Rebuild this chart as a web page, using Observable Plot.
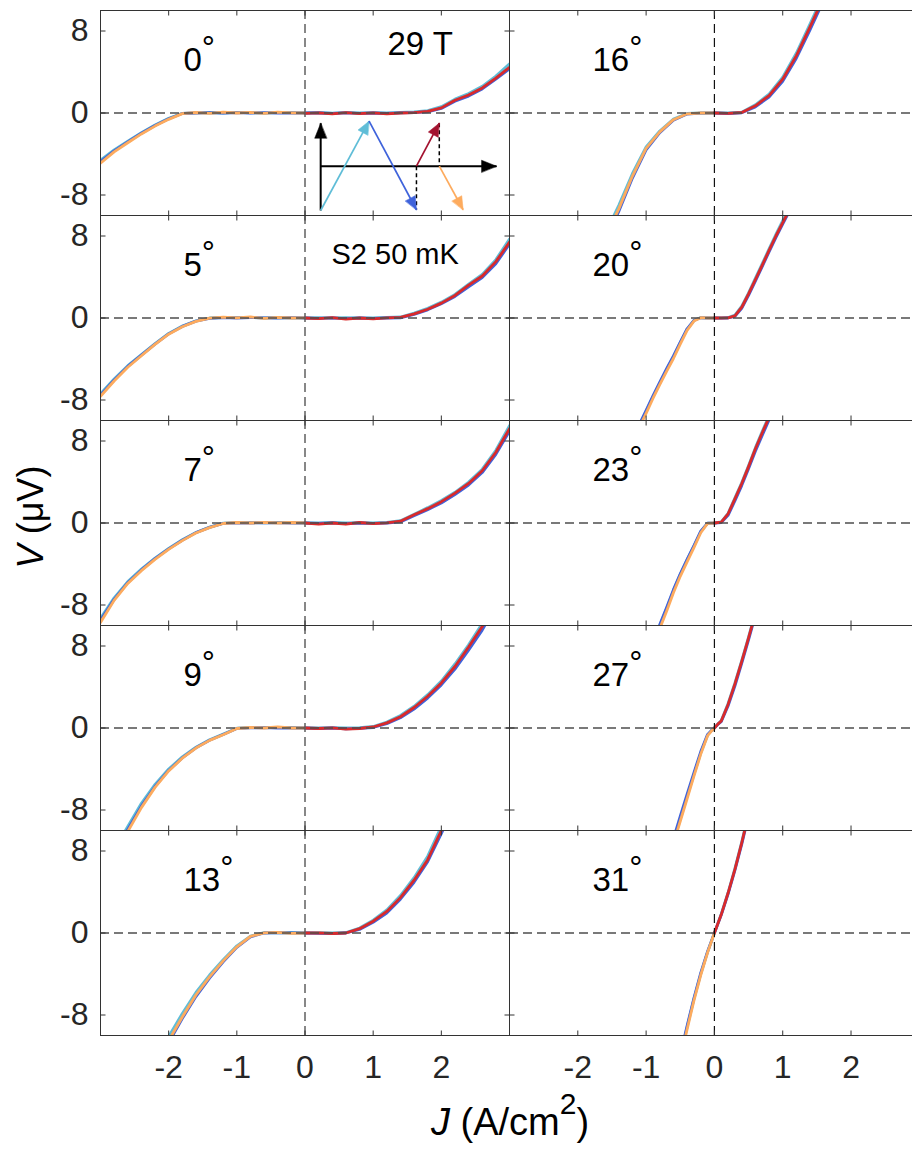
<!DOCTYPE html>
<html>
<head>
<meta charset="utf-8">
<script src="https://cdn.jsdelivr.net/npm/d3@7"></script>
<script src="https://cdn.jsdelivr.net/npm/@observablehq/plot@0.6"></script>
<style>
  html, body { margin: 0; padding: 0; background: #fff; overflow: hidden; }
  #chart { position: relative; width: 912px; height: 1149px; font-family: "Liberation Sans", Arial, Helvetica, sans-serif; }
  .panel { position: absolute; }
  .panel svg { background: transparent; overflow: visible; }
  .axis-title { position: absolute; white-space: nowrap; color: #000; line-height: 38px; }
  .axis-title sup { font-size: 30px; position: relative; top: -21px; vertical-align: baseline; line-height: 0; }
</style>
</head>
<body>
<div id="chart"></div>
<script>
// ---------------- data ----------------
const angleLabels = ["0", "5", "7", "9", "13", "16", "20", "23", "27", "31"];
const xTicks = [-2, -1, 0, 1, 2];
const yTicks = [-8, 0, 8];

// current density grids J (A/cm^2)
const gridLeft = [-3,-2.8,-2.6,-2.4,-2.2,-2,-1.8,-1.6,-1.4,-1.2,-1,-0.8,-0.6,-0.4,-0.2,0,0.2,0.4,0.6,0.8,1,1.2,1.4,1.6,1.8,2,2.2,2.4,2.6,2.8,3];
const grid16 = [-1.8,-1.6,-1.4,-1.2,-1,-0.8,-0.6,-0.4,-0.2,0,0.2,0.4,0.6,0.8,1,1.2,1.4,1.6,1.8];
const grid20 = [-1.2,-1.1,-1,-0.9,-0.8,-0.7,-0.6,-0.5,-0.4,-0.3,-0.2,-0.1,0,0.1,0.2,0.3,0.4,0.5,0.6,0.7,0.8,0.9,1,1.1,1.2];
const grid23 = [-1,-0.9,-0.8,-0.7,-0.6,-0.5,-0.4,-0.3,-0.2,-0.1,0,0.1,0.2,0.3,0.4,0.5,0.6,0.7,0.8,0.9,1];
const grid27 = [-0.7,-0.6,-0.5,-0.4,-0.3,-0.2,-0.1,-0.05,0,0.05,0.1,0.2,0.3,0.4,0.5,0.6,0.7];
const grid31 = [-0.6,-0.5,-0.4,-0.3,-0.2,-0.1,0,0.1,0.2,0.3,0.4,0.5,0.6];

// V (uV). cyan / blue: full sweep; orange: J <= 0; red: J >= 0
const cyan0 = [-4.6,-3.6,-2.75,-1.92,-1.18,-0.52,-0.03,0.02,0.05,0.0,0.06,0.02,-0.02,0.05,0.04,0.0,0.05,-0.02,0.06,0.0,0.03,0.02,0.06,0.1,0.24,0.62,1.35,1.9,2.6,3.6,4.8];
const blue0 = [-4.75,-3.7,-2.82,-1.98,-1.22,-0.56,-0.05,0.0,0.03,-0.02,0.04,0.0,0.03,0.0,0.02,0.0,0.0,-0.05,0.02,-0.04,0.0,-0.05,0.02,0.03,0.12,0.45,1.15,1.65,2.35,3.3,4.3];
const orange0 = [-4.9,-3.8,-2.9,-2.04,-1.28,-0.62,-0.06,0.05,-0.04,0.08,0.0,0.06,-0.04,0.08,0.02,0.0];
const red0 = [-0.04,0.02,-0.08,0.04,-0.06,0.02,-0.08,0.0,0.04,0.15,0.5,1.25,1.75,2.45,3.4,4.45];

const cyan5 = [-7.4,-5.95,-4.65,-3.58,-2.5,-1.5,-0.78,-0.28,0.0,0.05,0.04,0.06,0.0,0.05,0.02,0.0,0.03,0.0,0.04,0.02,0.0,0.05,0.1,0.48,0.95,1.55,2.3,3.3,4.25,5.7,7.7];
const blue5 = [-7.55,-6.05,-4.72,-3.62,-2.55,-1.55,-0.82,-0.3,-0.04,0.03,0.0,0.04,0.02,0.0,0.03,0.0,-0.04,0.02,-0.06,0.0,-0.04,0.0,0.02,0.35,0.8,1.4,2.1,3.05,3.95,5.3,7.2];
const orange5 = [-7.65,-6.15,-4.8,-3.68,-2.58,-1.58,-0.85,-0.33,-0.02,0.08,0.02,0.1,-0.04,0.06,0.0,0.02];
const red5 = [0.0,-0.06,0.04,-0.1,0.0,-0.08,0.02,0.06,0.4,0.85,1.45,2.2,3.2,4.1,5.5,7.4];

const cyan7 = [-9.3,-7.3,-5.72,-4.5,-3.42,-2.47,-1.64,-0.92,-0.4,-0.02,0.04,0.03,0.02,0.05,0.03,0.0,0.02,0.05,0.0,0.04,0.02,0.05,0.22,0.85,1.5,2.2,3.0,4.0,5.25,7.1,9.5];
const blue7 = [-9.5,-7.45,-5.82,-4.58,-3.48,-2.52,-1.68,-0.94,-0.43,-0.03,0.02,0.0,0.04,0.02,0.0,0.0,-0.05,0.02,-0.06,0.0,-0.04,0.0,0.1,0.7,1.3,1.95,2.78,3.7,4.92,6.7,8.95];
const orange7 = [-9.7,-7.55,-5.9,-4.65,-3.55,-2.57,-1.72,-0.97,-0.45,-0.05,0.05,0.0,0.06,0.0,0.05,0.0];
const red7 = [0.0,-0.1,0.0,-0.12,0.05,-0.06,0.02,0.18,0.8,1.4,2.08,2.92,3.86,5.1,6.9,9.2];

const cyan9 = [-14.4,-11.9,-9.6,-7.35,-5.5,-4.0,-2.82,-1.87,-1.15,-0.6,-0.02,0.04,0.05,0.03,0.05,0.0,0.02,0.04,0.0,0.03,0.15,0.58,1.22,2.12,3.25,4.58,6.25,8.12,10.2,12.6,15.3];
const blue9 = [-14.8,-12.2,-9.9,-7.62,-5.7,-4.14,-2.92,-1.93,-1.19,-0.63,-0.04,0.02,0.03,0.0,0.02,0.0,-0.05,0.0,-0.08,-0.04,0.05,0.42,1.0,1.85,2.92,4.2,5.75,7.6,9.55,11.9,14.6];
const orange9 = [-15.0,-12.4,-10.1,-7.77,-5.79,-4.19,-2.95,-1.96,-1.21,-0.66,-0.05,0.05,0.0,0.1,0.0,0.0];
const red9 = [0.0,-0.05,0.02,-0.1,-0.05,0.1,0.5,1.1,2.0,3.1,4.4,6.0,7.9,9.9,12.3,15.0];

const cyan13 = [-23.4,-20.5,-17.5,-14.8,-12.3,-10.1,-7.85,-5.8,-4.1,-2.6,-1.25,-0.3,0.04,0.02,0.05,0.0,0.03,0.0,0.05,0.48,1.25,2.25,3.65,5.4,7.5,10.4,13.3,16.4,20,23.5,27.5];
const blue13 = [-24.3,-21.3,-18.3,-15.5,-12.9,-10.7,-8.35,-6.2,-4.4,-2.82,-1.4,-0.38,0.0,0.03,0.02,0.0,-0.03,-0.06,0.0,0.35,1.05,1.95,3.3,4.95,6.95,9.7,12.5,15.7,19,22.5,26.5];
const orange13 = [-24,-21,-18,-15.2,-12.7,-10.5,-8.2,-6.05,-4.28,-2.72,-1.35,-0.33,0.02,0.06,-0.04,0.0];
const red13 = [0.0,0.02,-0.05,0.0,0.42,1.15,2.1,3.45,5.15,7.15,10.0,12.9,16,19.5,23,27];

const cyan16 = [-14.6,-11.8,-9.0,-5.9,-3.3,-1.75,-0.6,-0.05,0.02,0.0,0.0,0.08,0.8,1.85,3.5,5.85,8.7,11.6,14.6];
const blue16 = [-15.3,-12.5,-9.6,-6.35,-3.6,-1.92,-0.7,-0.1,-0.02,0.0,-0.05,0.02,0.6,1.55,3.1,5.35,8.1,11.0,14.0];
const orange16 = [-15.0,-12.2,-9.35,-6.15,-3.45,-1.84,-0.65,-0.08,0.0,0.0];
const red16 = [0.0,-0.04,0.05,0.7,1.7,3.3,5.6,8.4,11.3,14.3];

const cyan20 = [-11.9,-10.5,-9.1,-7.7,-6.35,-5.05,-3.8,-2.4,-1.1,-0.25,0.04,0.02,0.0,0.02,0.05,0.28,1.15,2.45,3.9,5.3,6.75,8.15,9.5,10.8,12.2];
const blue20 = [-11.8,-10.4,-9.0,-7.6,-6.25,-4.95,-3.7,-2.35,-1.05,-0.22,0.02,0.0,0.0,-0.02,0.0,0.15,0.95,2.2,3.6,5.0,6.45,7.85,9.15,10.45,11.8];
const orange20 = [-12.1,-10.7,-9.3,-7.85,-6.5,-5.2,-3.95,-2.55,-1.2,-0.3,0.03,0.0,0.0];
const red20 = [0.0,0.0,0.02,0.2,1.05,2.35,3.75,5.15,6.6,8.0,9.3,10.6,12.0];

const cyan23 = [-13.0,-11.5,-10.0,-8.35,-6.6,-5.0,-3.6,-2.25,-0.85,-0.02,0.0,0.1,0.95,2.45,3.95,5.6,7.35,8.95,10.45,12.1,13.8];
const blue23 = [-12.9,-11.4,-9.9,-8.25,-6.5,-4.95,-3.55,-2.2,-0.8,-0.01,0.0,0.04,0.75,2.15,3.65,5.3,7.0,8.55,10.05,11.7,13.4];
const orange23 = [-13.3,-11.8,-10.3,-8.6,-6.8,-5.2,-3.8,-2.4,-0.95,-0.03,0.0];
const red23 = [0.0,0.08,0.9,2.35,3.85,5.5,7.25,8.8,10.3,12.0,13.7];

const cyan27 = [-13.3,-11.1,-8.9,-6.7,-4.55,-2.45,-0.7,-0.3,0.0,0.4,0.72,2.4,4.4,6.6,8.9,11.3,13.7];
const blue27 = [-13.0,-10.8,-8.6,-6.45,-4.35,-2.3,-0.62,-0.28,0.0,0.35,0.62,2.15,4.1,6.3,8.6,11.0,13.4];
const orange27 = [-13.5,-11.3,-9.1,-6.9,-4.7,-2.55,-0.75,-0.35,0.0];
const red27 = [0.0,0.38,0.68,2.3,4.3,6.5,8.8,11.2,13.6];

const cyan31 = [-15.0,-12.1,-9.2,-6.45,-4.0,-1.85,0.0,1.85,3.95,6.3,8.9,11.7,14.6];
const blue31 = [-14.8,-11.9,-9.05,-6.35,-3.9,-1.8,0.0,1.75,3.8,6.1,8.65,11.45,14.3];
const orange31 = [-15.2,-12.3,-9.4,-6.6,-4.1,-1.9,0.0];
const red31 = [0.0,1.8,3.9,6.2,8.8,11.6,14.5];

// inset schematic (in 0° panel data coordinates)
const arrowKinds = ["axis", "axis", "cyan", "blue", "darkred", "orange"];
const arrowJ1 = [0.23, 0.23, 0.23, 0.94, 1.635, 1.97];
const arrowV1 = [-9.51, -5.19, -9.51, -0.80, -5.19, -5.19];
const arrowJ2 = [0.23, 2.81, 0.94, 1.635, 1.97, 2.32];
const arrowV2 = [-1.0, -5.19, -0.80, -9.44, -0.99, -9.44];
const dashJ = [1.635, 1.97];
const dashV1 = [-5.19, -0.99];
const dashV2 = [-9.44, -5.19];

// ---------------- layout & style ----------------
const FRAME_LEFT = [100, 509];
const FRAME_WIDTH = [409, 403];
const X_DOMAIN = [[-3, 3], [-3, 2.9]];
const Y_DOMAIN = [-10, 10];
const TOP0 = 10, ROW_H = 205, PAD = 8, BOTTOM_M = 72;
const FONT = '"Liberation Sans", Arial, Helvetica, sans-serif';
const COLORS = {cyan: "#5fbdd7", blue: "#3f63db", orange: "#fdab5e", red: "#d92a2b", darkred: "#a3122f", axis: "#000000"};
const AXIS_COLOR = "#333";
const TICK_LEN = 5;

const panels = [
  {grid: gridLeft, cyan: cyan0, blue: blue0, orange: orange0, red: red0},
  {grid: gridLeft, cyan: cyan5, blue: blue5, orange: orange5, red: red5},
  {grid: gridLeft, cyan: cyan7, blue: blue7, orange: orange7, red: red7},
  {grid: gridLeft, cyan: cyan9, blue: blue9, orange: orange9, red: red9},
  {grid: gridLeft, cyan: cyan13, blue: blue13, orange: orange13, red: red13},
  {grid: grid16, cyan: cyan16, blue: blue16, orange: orange16, red: red16},
  {grid: grid20, cyan: cyan20, blue: blue20, orange: orange20, red: red20},
  {grid: grid23, cyan: cyan23, blue: blue23, orange: orange23, red: red23},
  {grid: grid27, cyan: cyan27, blue: blue27, orange: orange27, red: red27},
  {grid: grid31, cyan: cyan31, blue: blue31, orange: orange31, red: red31}
];

function series(grid, vals, part) {
  const zi = grid.indexOf(0);
  const js = part === "neg" ? grid.slice(0, zi + 1) : part === "pos" ? grid.slice(zi) : grid;
  return js.map((J, i) => ({J, V: vals[i]}));
}

const headShape = (hw) => ({
  draw(ctx, l) { ctx.moveTo(0, -l); ctx.lineTo(-hw, 0); ctx.lineTo(hw, 0); ctx.closePath(); }
});
const tickShape = {draw(ctx, l) { ctx.moveTo(0, 0); ctx.lineTo(0, -l); }};

function insideTicks(xd, withRight) {
  const o = {length: TICK_LEN, anchor: "start", shape: tickShape, stroke: AXIS_COLOR, strokeWidth: 1, strokeLinecap: "butt"};
  const m = [
    Plot.vector(xTicks, {...o, x: d => d, y: () => Y_DOMAIN[1], rotate: 180}),
    Plot.vector(xTicks, {...o, x: d => d, y: () => Y_DOMAIN[0], rotate: 0}),
    Plot.vector(yTicks, {...o, x: () => xd[0], y: d => d, rotate: 90})
  ];
  if (withRight) m.push(Plot.vector(yTicks, {...o, x: () => xd[1], y: d => d, rotate: 270}));
  return m;
}

function insetMarks() {
  const pxJ = FRAME_WIDTH[0] / (X_DOMAIN[0][1] - X_DOMAIN[0][0]);
  const pxV = ROW_H / (Y_DOMAIN[1] - Y_DOMAIN[0]);
  const out = [];
  dashJ.forEach((j, i) => {
    out.push(Plot.link([{x1: j, y1: dashV1[i], x2: j, y2: dashV2[i]}],
      {x1: "x1", y1: "y1", x2: "x2", y2: "y2", stroke: "#000", strokeWidth: 1.5, strokeDasharray: "4,3"}));
  });
  arrowKinds.forEach((k, i) => {
    const a = {x1: arrowJ1[i], y1: arrowV1[i], x2: arrowJ2[i], y2: arrowV2[i]};
    const isAxis = k === "axis";
    const c = COLORS[k];
    const dx = (a.x2 - a.x1) * pxJ, dy = -(a.y2 - a.y1) * pxV;
    const ang = Math.atan2(dx, -dy) * 180 / Math.PI;
    out.push(Plot.link([a], {x1: "x1", y1: "y1", x2: "x2", y2: "y2", stroke: c, strokeWidth: isAxis ? 2 : 1.7, strokeLinecap: "butt"}));
    out.push(Plot.vector([a], {x: "x2", y: "y2", rotate: ang, length: isAxis ? 15 : 13, anchor: "end",
      shape: headShape(isAxis ? 6 : 5.5), fill: c, stroke: c, strokeWidth: 0.5}));
  });
  return out;
}

const chart = document.getElementById("chart");

panels.forEach((p, i) => {
  const col = i < 5 ? 0 : 1, row = i % 5;
  const marginLeft = col === 0 ? FRAME_LEFT[0] : PAD;
  const marginRight = col === 0 ? PAD : 0;
  const marginTop = PAD;
  const marginBottom = row === 4 ? BOTTOM_M : PAD;
  const width = marginLeft + FRAME_WIDTH[col] + marginRight;
  const height = marginTop + ROW_H + marginBottom;
  const xd = X_DOMAIN[col];
  const lineOpts = {x: "J", y: "V", strokeWidth: 2.8, clip: true, strokeLinejoin: "round", strokeLinecap: "round"};
  const marks = [
    Plot.line(series(p.grid, p.cyan, "all"), {...lineOpts, stroke: COLORS.cyan}),
    Plot.line(series(p.grid, p.blue, "all"), {...lineOpts, stroke: COLORS.blue}),
    Plot.line(series(p.grid, p.orange, "neg"), {...lineOpts, stroke: COLORS.orange}),
    Plot.line(series(p.grid, p.red, "pos"), {...lineOpts, stroke: COLORS.red}),
    Plot.ruleY([0], {stroke: "#4d4d4d", strokeWidth: 1.5, strokeDasharray: "9,5"}),
    Plot.ruleX([0], {stroke: col ? "#111" : "#606060", strokeWidth: col ? 1.2 : 1.5, strokeDasharray: "9,5"}),
    Plot.ruleY(Y_DOMAIN, {stroke: AXIS_COLOR, strokeWidth: 1}),
    Plot.ruleX(col === 0 ? xd : [xd[0]], {stroke: AXIS_COLOR, strokeWidth: 1}),
    ...insideTicks(xd, col === 0)
  ];
  if (col === 0) {
    marks.push(Plot.axisY(yTicks, {anchor: "left", tickSize: 0, tickPadding: 12, tickFormat: d => String(d),
      fontSize: 32, fill: "#262626", label: null}));
  }
  if (row === 4) {
    marks.push(Plot.axisX(xTicks, {anchor: "bottom", tickSize: 0, tickPadding: 20, tickFormat: d => String(d),
      fontSize: 32, fill: "#262626", label: null}));
  }
  const lbl = angleLabels[i];
  marks.push(Plot.text([lbl], {text: d => d, frameAnchor: "top-left", dx: 83, dy: 60.7,
    textAnchor: "start", lineAnchor: "bottom", fontSize: 33, fill: "#000"}));
  marks.push(Plot.text(["°"], {text: d => d, frameAnchor: "top-left", dx: 83 + lbl.length * 18.35, dy: 48.4,
    textAnchor: "start", lineAnchor: "bottom", fontSize: 33, fill: "#000"}));
  if (i === 0) {
    marks.push(...insetMarks());
    marks.push(Plot.text(["29 T"], {text: d => d, frameAnchor: "top-left", dx: 287, dy: 44,
      textAnchor: "start", lineAnchor: "bottom", fontSize: 33, fill: "#000"}));
  }
  if (i === 1) {
    marks.push(Plot.text(["S2 50 mK"], {text: d => d, frameAnchor: "top-left", dx: 231, dy: 48.3,
      textAnchor: "start", lineAnchor: "bottom", fontSize: 29, fill: "#000"}));
  }
  const svg = Plot.plot({
    width, height, marginLeft, marginRight, marginTop, marginBottom,
    x: {domain: xd, axis: null},
    y: {domain: Y_DOMAIN, axis: null},
    style: {background: "transparent", overflow: "visible", fontFamily: FONT},
    marks
  });
  const div = document.createElement("div");
  div.className = "panel";
  div.style.left = (FRAME_LEFT[col] - marginLeft) + "px";
  div.style.top = (TOP0 + row * ROW_H - marginTop) + "px";
  div.style.width = width + "px";
  div.style.height = height + "px";
  div.appendChild(svg);
  chart.appendChild(div);
});

// axis titles
const xt = document.createElement("div");
xt.className = "axis-title";
xt.style.fontSize = "38px";
xt.innerHTML = '<i>J</i> (A/cm<sup>2</sup>)';
xt.style.left = "510px";
xt.style.top = "1122px";
xt.style.transform = "translate(-50%, -50%)";
chart.appendChild(xt);

const yt = document.createElement("div");
yt.className = "axis-title";
yt.style.fontSize = "36px";
yt.innerHTML = '<i>V</i> (μV)';
yt.style.left = "31px";
yt.style.top = "517px";
yt.style.transform = "translate(-50%, -50%) rotate(-90deg)";
chart.appendChild(yt);
</script>
</body>
</html>
